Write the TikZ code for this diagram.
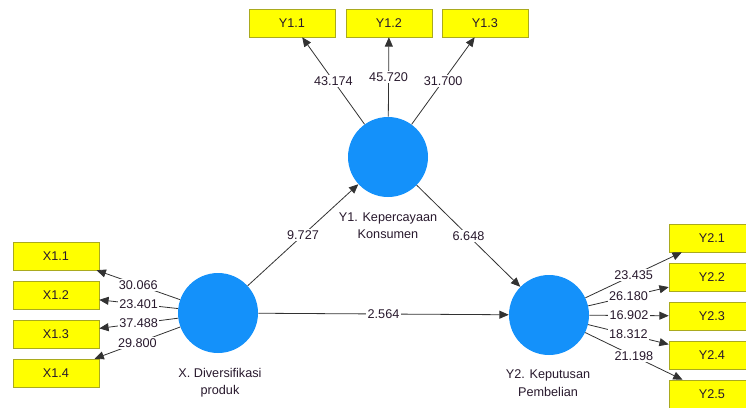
\documentclass[tikz,border=0pt]{standalone}
\usepackage{fontspec}
\setmainfont{Liberation Sans}
\usetikzlibrary{arrows.meta}
\definecolor{plsblue}{RGB}{20,145,250}
\definecolor{plsyellow}{RGB}{255,255,0}
\definecolor{plsolive}{RGB}{170,170,30}
\definecolor{plsline}{RGB}{50,50,50}
\definecolor{plstext}{RGB}{40,25,45}
\tikzset{
  lv/.style={circle, fill=plsblue, minimum size=60pt, inner sep=0pt},
  ind/.style={draw=plsolive, fill=plsyellow, minimum width=64.5pt, minimum height=21pt,
    inner sep=0pt, text=plstext, font=\fontsize{9.5}{10}\selectfont},
  num/.style={fill=white, inner sep=1pt, text=plstext, font=\fontsize{9.5}{10}\selectfont},
  arr/.style={draw=plsline, line width=0.6pt, -{Triangle[length=7pt,width=6pt]}},
  lvname/.style={align=center, text=plstext, font=\fontsize{9.5}{13}\selectfont}
}
\begin{document}
\begin{tikzpicture}[x=0.75pt, y=-0.75pt]
\useasboundingbox (0,0) rectangle (746,407);
\clip (0,0) rectangle (746,407);
% latent variables
\node [lv] (x) at (218,313) {};
\node [lv] (y1) at (388,157) {};
\node [lv] (y2) at (549,315) {};
\node [lvname] (xname) at (220,383) {X. Diversifikasi\\produk};
\node [lvname] (y1name) at (388,226) {Y1. Kepercayaan\\Konsumen};
\node [lvname] (y2name) at (548,383) {Y2. Keputusan\\Pembelian};
% indicators
\node [ind] (x11) at (56,256) {X1.1};
\node [ind] (x12) at (56,295) {X1.2};
\node [ind] (x13) at (56,334) {X1.3};
\node [ind] (x14) at (56,373) {X1.4};
\node [ind] (y11) at (292,23) {Y1.1};
\node [ind] (y12) at (389,23) {Y1.2};
\node [ind] (y13) at (485,23) {Y1.3};
\node [ind] (y21) at (712,238) {Y2.1};
\node [ind] (y22) at (712,277) {Y2.2};
\node [ind] (y23) at (712,316) {Y2.3};
\node [ind] (y24) at (712,355) {Y2.4};
\node [ind] (y25) at (712,394) {Y2.5};
% outer loadings
\draw [arr] (x) -- node [num] {30.066} (x11);
\draw [arr] (x) -- node [num] {23.401} (x12);
\draw [arr] (x) -- node [num] {37.488} (x13);
\draw [arr] (x) -- node [num] {29.800} (x14);
\draw [arr] (y1) -- node [num] {43.174} (y11);
\draw [arr] (y1) -- node [num] {45.720} (y12);
\draw [arr] (y1) -- node [num] {31.700} (y13);
\draw [arr] (y2) -- node [num] {23.435} (y21);
\draw [arr] (y2) -- node [num] {26.180} (y22);
\draw [arr] (y2) -- node [num] {16.902} (y23);
\draw [arr] (y2) -- node [num] {18.312} (y24);
\draw [arr] (y2) -- node [num] {21.198} (y25);
% inner model
\draw [arr] (x) -- node [num] {9.727} (y1);
\draw [arr] (y1) -- node [num] {6.648} (y2);
\draw [arr] (x) -- node [num] {2.564} (y2);
\end{tikzpicture}
\end{document}
